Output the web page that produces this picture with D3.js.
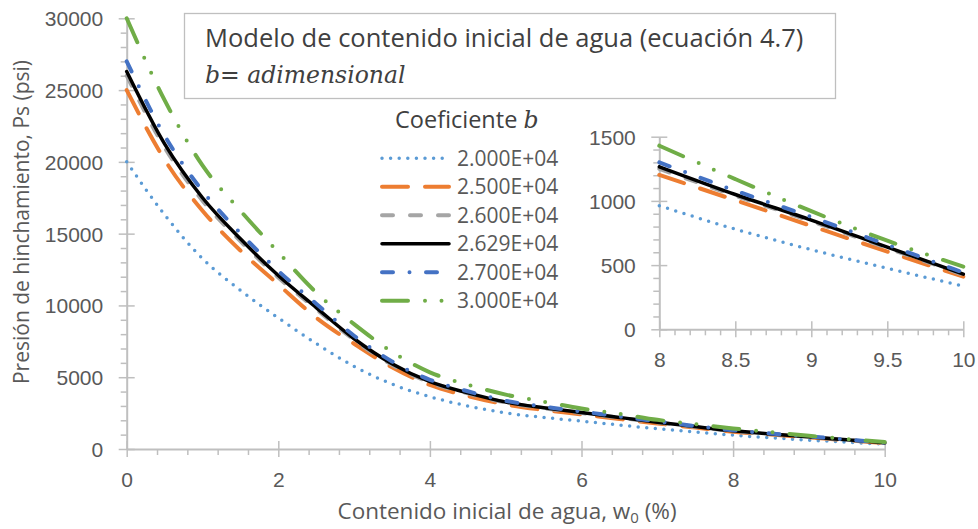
<!DOCTYPE html>
<html>
<head>
<meta charset="utf-8">
<script src="https://cdn.jsdelivr.net/npm/d3@7"></script>
<style>
  body { margin: 0; background: #fff; }
  svg { display: block; font-family: "Open Sans", "Noto Sans", sans-serif; }
</style>
</head>
<body>
<svg id="chart" width="978" height="529"></svg>
<script>
// water content w0 (%)
const wValues = [0, 0.5, 1, 1.5, 2, 2.5, 3, 3.5, 4, 4.5, 5, 5.5, 6, 6.5, 7, 7.5, 8, 8.5, 9, 9.5, 10];

// swelling pressure Ps (psi) for each coefficient b
const p20000 = [20000, 16320, 13260, 11050, 9130, 7350, 5760, 4520, 3640, 3000, 2510, 2200, 1940, 1670, 1410, 1190, 963, 780, 620, 475, 337];
const p25000 = [25000, 20150, 16600, 13830, 11460, 9150, 7330, 5690, 4460, 3690, 3110, 2720, 2410, 2090, 1780, 1490, 1202, 1005, 805, 605, 410];
const p26000 = [26000, 21000, 17300, 14480, 11950, 9740, 7600, 5870, 4640, 3870, 3240, 2840, 2510, 2180, 1850, 1545, 1250, 1040, 842, 633, 425];
const p26290 = [26290, 21250, 17500, 14640, 12080, 9850, 7680, 5940, 4690, 3910, 3270, 2870, 2540, 2200, 1870, 1560, 1266, 1050, 851, 640, 430];
const p27000 = [27000, 21830, 17970, 15040, 12410, 10120, 7890, 6100, 4820, 4020, 3360, 2950, 2610, 2260, 1920, 1600, 1300, 1080, 875, 658, 442];
const p30000 = [30000, 24300, 19750, 16600, 13700, 10900, 8700, 6770, 5340, 4480, 3790, 3300, 2820, 2460, 2030, 1730, 1430, 1170, 920, 690, 488];

const bLabels = ["2.000E+04", "2.500E+04", "2.600E+04", "2.629E+04", "2.700E+04", "3.000E+04"];
const seriesValues = [p20000, p25000, p26000, p26290, p27000, p30000];

const xTicks = [0, 2, 4, 6, 8, 10];
const yTicks = [0, 5000, 10000, 15000, 20000, 25000, 30000];
const insetXTicks = [8, 8.5, 9, 9.5, 10];
const insetYTicks = [0, 500, 1000, 1500];

// line styles (Excel-like)
const styles = [
  { color: "#5B9BD5", width: 3.5, dash: "0 8.6" },
  { color: "#ED7D31", width: 4, dash: "26 17" },
  { color: "#A5A5A5", width: 4, dash: "11 17" },
  { color: "#000000", width: 3.5, dash: null },
  { color: "#4472C4", width: 4, dash: "11 16.5 0 16.5" },
  { color: "#70AD47", width: 4, dash: "26 17 0 16.5 0 17" }
];

const axisColor = "#BFBFBF",
  textColor = "#595959",
  darkText = "#404040",
  mathFont = "'DejaVu Serif', 'Liberation Serif', serif";

const svg = d3.select("#chart");

const margin = ({ top: 18.3, right: 93.3, bottom: 80, left: 126.7 });
const x = d3.scaleLinear([0, 10], [margin.left, 884.7]);
const y = d3.scaleLinear([0, 30000], [449, margin.top]);

const xi = d3.scaleLinear([8, 10], [659.3, 963.3]);
const yi = d3.scaleLinear([0, 1500], [329.3, 136.7]);

function minorValues(lo, hi, step, majors) {
  const out = [];
  const n = Math.round((hi - lo) / step);
  for (let i = 0; i <= n; i++) {
    const v = +(lo + i * step).toFixed(6);
    if (!majors.some(m => Math.abs(m - v) < 1e-6)) out.push(v);
  }
  return out;
}

function drawAxes(sx, sy, xt, yt, xMinorStep, yMinorStep) {
  const [x0] = sx.range(), [y0] = sy.range();

  // minor ticks (outside only)
  svg.append("g")
    .attr("transform", `translate(0,${y0})`)
    .call(d3.axisBottom(sx).tickValues(minorValues(sx.domain()[0], sx.domain()[1], xMinorStep, xt)).tickSize(6).tickFormat(""))
    .call(g => g.select(".domain").remove())
    .call(g => g.selectAll("line").attr("stroke", axisColor).attr("stroke-width", 1.5));
  svg.append("g")
    .attr("transform", `translate(${x0},0)`)
    .call(d3.axisLeft(sy).tickValues(minorValues(sy.domain()[0], sy.domain()[1], yMinorStep, yt)).tickSize(6).tickFormat(""))
    .call(g => g.select(".domain").remove())
    .call(g => g.selectAll("line").attr("stroke", axisColor).attr("stroke-width", 1.5));

  // major ticks (crossing) with labels
  const gx = svg.append("g")
    .attr("transform", `translate(0,${y0})`)
    .call(d3.axisBottom(sx).tickValues(xt).tickSize(8).tickSizeOuter(0).tickFormat(d3.format("")));
  gx.select(".domain").attr("stroke", axisColor).attr("stroke-width", 2);
  gx.selectAll(".tick line").attr("stroke", axisColor).attr("stroke-width", 1.5).attr("y1", -8);
  gx.selectAll(".tick text")
    .attr("y", 37.5).attr("dy", null)
    .attr("fill", textColor).style("font-size", "21px");

  const gy = svg.append("g")
    .attr("transform", `translate(${x0},0)`)
    .call(d3.axisLeft(sy).tickValues(yt).tickSize(8).tickSizeOuter(0).tickFormat(d3.format("d")));
  gy.select(".domain").attr("stroke", axisColor).attr("stroke-width", 2);
  gy.selectAll(".tick line").attr("stroke", axisColor).attr("stroke-width", 1.5).attr("x1", 8);
  gy.selectAll(".tick text")
    .attr("x", -23.5).attr("dy", "0.35em")
    .attr("fill", textColor).style("font-size", "21px");
  svg.selectAll(".tick text").attr("font-family", null);
}

// title box
svg.append("rect")
  .attr("x", 184.5).attr("y", 13.5)
  .attr("width", 651).attr("height", 85)
  .attr("fill", "#fff").attr("stroke", axisColor).attr("stroke-width", 1.3);

svg.append("text")
  .attr("x", 205).attr("y", 47)
  .attr("fill", darkText)
  .style("font-size", "25.5px")
  .text("Modelo de contenido inicial de agua (ecuación 4.7)");

const sub = svg.append("text")
  .attr("x", 205).attr("y", 82.5)
  .attr("fill", darkText)
  .style("font-size", "23.5px")
  .style("font-family", mathFont);
sub.append("tspan").style("font-style", "italic").text("b");
sub.append("tspan").text("= ");
sub.append("tspan").style("font-style", "italic").text("adimensional");

// main chart
drawAxes(x, y, xTicks, yTicks, 0.4, 1000);

const line = d3.line()
  .x(d => x(d[0]))
  .y(d => y(d[1]))
  .curve(d3.curveMonotoneX);

seriesValues.forEach((vals, i) => {
  const s = styles[i];
  svg.append("path")
    .datum(wValues.map((w, j) => [w, vals[j]]))
    .attr("fill", "none")
    .attr("stroke", s.color)
    .attr("stroke-width", s.width)
    .attr("stroke-linecap", "round")
    .attr("stroke-dasharray", s.dash)
    .attr("d", line);
});

// axis titles
svg.append("text")
  .attr("transform", "translate(21,222) rotate(-90)")
  .attr("text-anchor", "middle")
  .attr("dominant-baseline", "central")
  .attr("fill", textColor)
  .style("font-size", "21px")
  .text("Presión de hinchamiento, Ps (psi)");

const xl = svg.append("text")
  .attr("x", 507).attr("y", 518.5)
  .attr("text-anchor", "middle")
  .attr("fill", textColor)
  .style("font-size", "22.5px");
xl.append("tspan").text("Contenido inicial de agua, w");
xl.append("tspan").attr("dy", 4).style("font-size", "15px").text("0");
xl.append("tspan").attr("dy", -4).text(" (%)");

// legend
const lt = svg.append("text")
  .attr("x", 395).attr("y", 128)
  .attr("fill", darkText)
  .style("font-size", "23.5px");
lt.append("tspan").text("Coeficiente ");
lt.append("tspan")
  .style("font-style", "italic")
  .style("font-family", mathFont)
  .text("b");

const legend = svg.append("g")
  .selectAll("g")
  .data(bLabels)
  .join("g")
  .attr("transform", (d, i) => `translate(0,${158.3 + i * 28.5})`);

legend.append("line")
  .attr("x1", 382).attr("x2", 449)
  .attr("stroke", (d, i) => styles[i].color)
  .attr("stroke-width", (d, i) => styles[i].width)
  .attr("stroke-linecap", "round")
  .attr("stroke-dasharray", (d, i) => styles[i].dash);

legend.append("text")
  .attr("x", 457).attr("dy", "0.35em")
  .attr("fill", textColor)
  .style("font-size", "21px")
  .text(d => d);

// inset chart (8 to 10 %)
drawAxes(xi, yi, insetXTicks, insetYTicks, 0.1, 100);

const insetLine = d3.line()
  .x(d => xi(d[0]))
  .y(d => yi(d[1]))
  .curve(d3.curveMonotoneX);

seriesValues.forEach((vals, i) => {
  const s = styles[i];
  const pts = wValues.map((w, j) => [w, vals[j]]).filter(d => d[0] >= 8);
  svg.append("path")
    .datum(pts)
    .attr("fill", "none")
    .attr("stroke", s.color)
    .attr("stroke-width", s.width)
    .attr("stroke-linecap", "round")
    .attr("stroke-dasharray", s.dash)
    .attr("d", insetLine);
});
</script>
</body>
</html>
